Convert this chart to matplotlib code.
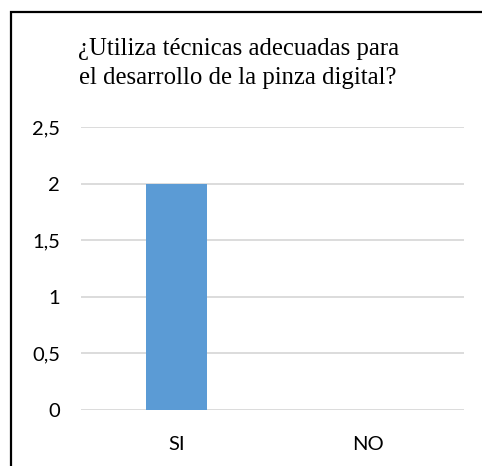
import matplotlib
matplotlib.use("Agg")
import matplotlib.pyplot as plt
from matplotlib.patches import Rectangle

categories = ["SI", "NO"]
values = [2, 0]
yticks = [0, 0.5, 1, 1.5, 2, 2.5]
ytick_labels = ["0", "0,5", "1", "1,5", "2", "2,5"]
title = "¿Utiliza técnicas adecuadas para\nel desarrollo de la pinza digital?"

fig = plt.figure(figsize=(4.82, 4.66), dpi=100)
ax = fig.add_axes([0.168, 0.120, 0.795, 0.6075])

# frame around the whole chart (cut at right and bottom like the screenshot)
fig.patches.append(Rectangle((0.0228, -0.05), 1.2, 1.024, transform=fig.transFigure,
                             fill=False, edgecolor="black", linewidth=1.6))

ax.bar(range(len(categories)), values, width=0.32, color="#5b9bd5", zorder=3)
ax.set_xlim(-0.5, 1.5)
ax.set_ylim(0, 2.5)
ax.set_yticks(yticks)
ax.set_yticklabels(ytick_labels)
ax.set_xticks(range(len(categories)))
ax.set_xticklabels(categories)
ax.yaxis.grid(True, color="#d9d9d9", linewidth=1.3, zorder=0)
for s in ax.spines.values():
    s.set_visible(False)
ax.tick_params(length=0, labelsize=14.5, colors="black")
ax.tick_params(axis="y", pad=15)
ax.tick_params(axis="x", pad=18.5)
for lbl in ax.get_xticklabels() + ax.get_yticklabels():
    lbl.set_family("Lato")

fig.text(0.494, 0.864, title, ha="center", va="center", fontsize=17.8,
         family="Liberation Serif", linespacing=1.45)

fig.savefig("out.png", dpi=100)
